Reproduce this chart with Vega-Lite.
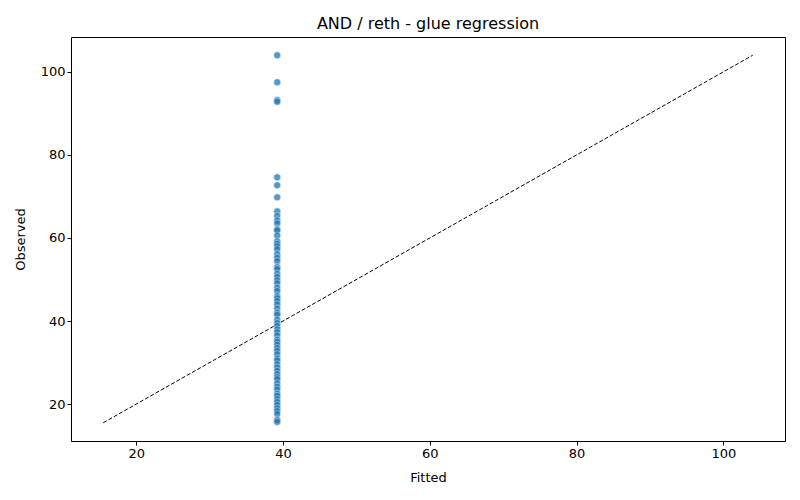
{
  "$schema": "https://vega.github.io/schema/vega-lite/v6.json",
  "width": 714,
  "height": 404,
  "autosize": {"type": "none"},
  "padding": {"left": 71, "top": 37, "right": 15, "bottom": 59},
  "background": "white",
  "title": {
    "text": "AND / reth - glue regression",
    "font": "DejaVu Sans",
    "fontSize": 16,
    "fontWeight": "normal",
    "color": "black",
    "offset": 5
  },
  "config": {
    "view": {"stroke": "black", "strokeWidth": 1},
    "axis": {
      "grid": false,
      "domain": false,
      "tickColor": "black",
      "tickSize": 4,
      "labelFont": "DejaVu Sans",
      "labelFontSize": 13,
      "labelColor": "black",
      "titleFont": "DejaVu Sans",
      "titleFontSize": 13,
      "titleFontWeight": "normal",
      "titleColor": "black"
    }
  },
  "datasets": {
    "points": [
      {"fitted": 39.2, "observed": 104.0},
      {"fitted": 39.2, "observed": 97.5},
      {"fitted": 39.2, "observed": 93.2},
      {"fitted": 39.2, "observed": 92.8},
      {"fitted": 39.2, "observed": 74.6},
      {"fitted": 39.2, "observed": 72.7},
      {"fitted": 39.2, "observed": 69.8},
      {"fitted": 39.2, "observed": 66.4},
      {"fitted": 39.2, "observed": 65.3},
      {"fitted": 39.2, "observed": 64.2},
      {"fitted": 39.2, "observed": 63.5},
      {"fitted": 39.2, "observed": 62.1},
      {"fitted": 39.2, "observed": 61.8},
      {"fitted": 39.2, "observed": 60.6},
      {"fitted": 39.2, "observed": 59.2},
      {"fitted": 39.2, "observed": 58.6},
      {"fitted": 39.2, "observed": 58.0},
      {"fitted": 39.2, "observed": 57.3},
      {"fitted": 39.2, "observed": 56.1},
      {"fitted": 39.2, "observed": 55.2},
      {"fitted": 39.2, "observed": 54.4},
      {"fitted": 39.2, "observed": 53.0},
      {"fitted": 39.2, "observed": 52.5},
      {"fitted": 39.2, "observed": 51.4},
      {"fitted": 39.2, "observed": 50.6},
      {"fitted": 39.2, "observed": 49.8},
      {"fitted": 39.2, "observed": 49.1},
      {"fitted": 39.2, "observed": 48.0},
      {"fitted": 39.2, "observed": 47.2},
      {"fitted": 39.2, "observed": 46.0},
      {"fitted": 39.2, "observed": 45.5},
      {"fitted": 39.2, "observed": 44.8},
      {"fitted": 39.2, "observed": 44.0},
      {"fitted": 39.2, "observed": 43.0},
      {"fitted": 39.2, "observed": 42.0},
      {"fitted": 39.2, "observed": 41.5},
      {"fitted": 39.2, "observed": 40.3},
      {"fitted": 39.2, "observed": 39.5},
      {"fitted": 39.2, "observed": 38.8},
      {"fitted": 39.2, "observed": 38.0},
      {"fitted": 39.2, "observed": 37.3},
      {"fitted": 39.2, "observed": 36.5},
      {"fitted": 39.2, "observed": 35.5},
      {"fitted": 39.2, "observed": 35.0},
      {"fitted": 39.2, "observed": 34.3},
      {"fitted": 39.2, "observed": 33.5},
      {"fitted": 39.2, "observed": 32.8},
      {"fitted": 39.2, "observed": 32.0},
      {"fitted": 39.2, "observed": 31.0},
      {"fitted": 39.2, "observed": 30.5},
      {"fitted": 39.2, "observed": 29.6},
      {"fitted": 39.2, "observed": 28.8},
      {"fitted": 39.2, "observed": 28.0},
      {"fitted": 39.2, "observed": 27.2},
      {"fitted": 39.2, "observed": 26.5},
      {"fitted": 39.2, "observed": 26.0},
      {"fitted": 39.2, "observed": 25.0},
      {"fitted": 39.2, "observed": 24.2},
      {"fitted": 39.2, "observed": 23.5},
      {"fitted": 39.2, "observed": 22.5},
      {"fitted": 39.2, "observed": 22.0},
      {"fitted": 39.2, "observed": 21.2},
      {"fitted": 39.2, "observed": 20.5},
      {"fitted": 39.2, "observed": 19.8},
      {"fitted": 39.2, "observed": 19.0},
      {"fitted": 39.2, "observed": 18.3},
      {"fitted": 39.2, "observed": 17.6},
      {"fitted": 39.2, "observed": 16.2},
      {"fitted": 39.2, "observed": 15.7}
    ],
    "diagonal": [
      {"fitted": 15.5, "observed": 15.5},
      {"fitted": 104.0, "observed": 104.0}
    ]
  },
  "layer": [
    {
      "data": {"name": "diagonal"},
      "mark": {"type": "line", "color": "black", "strokeWidth": 1, "strokeDash": [4, 2]},
      "encoding": {
        "x": {"field": "fitted", "type": "quantitative"},
        "y": {"field": "observed", "type": "quantitative"}
      }
    },
    {
      "data": {"name": "points"},
      "mark": {
        "type": "point",
        "filled": true,
        "color": "#1f77b4",
        "opacity": 0.75,
        "stroke": "white",
        "strokeWidth": 0.5,
        "size": 50
      },
      "encoding": {
        "x": {
          "field": "fitted",
          "type": "quantitative",
          "title": "Fitted",
          "scale": {"domain": [11.1, 108.4], "nice": false, "zero": false},
          "axis": {"values": [20, 40, 60, 80, 100], "titlePadding": 11}
        },
        "y": {
          "field": "observed",
          "type": "quantitative",
          "title": "Observed",
          "scale": {"domain": [11.1, 108.4], "nice": false, "zero": false},
          "axis": {"values": [20, 40, 60, 80, 100], "titlePadding": 13}
        }
      }
    }
  ]
}
